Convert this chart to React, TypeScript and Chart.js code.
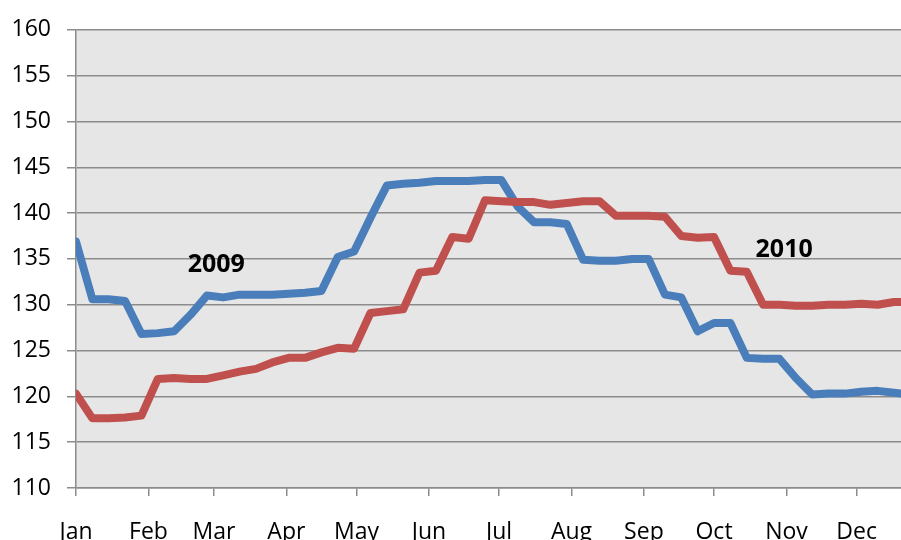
import React, { useEffect, useRef } from "react";
import { Chart, registerables } from "chart.js";

Chart.register(...registerables);

// Weekly observations (day of year = 7 * week index)
const weeks: number[] = Array.from({ length: 52 }, (_, i) => i * 7);

const series2009: number[] = [
  136.9, 130.6, 130.6, 130.4, 126.8, 126.9, 127.1, 128.9, 131.0, 130.8,
  131.1, 131.1, 131.1, 131.2, 131.3, 131.5, 135.2, 135.8, 139.5, 143.0,
  143.2, 143.3, 143.5, 143.5, 143.5, 143.6, 143.6, 140.7, 139.0, 139.0,
  138.8, 134.9, 134.8, 134.8, 135.0, 135.0, 131.1, 130.8, 127.1, 128.0,
  128.0, 124.2, 124.1, 124.1, 122.0, 120.2, 120.3, 120.3, 120.5, 120.6,
  120.4, 120.2,
];

const series2010: number[] = [
  120.3, 117.6, 117.6, 117.7, 117.9, 121.9, 122.0, 121.9, 121.9, 122.3,
  122.7, 123.0, 123.7, 124.2, 124.2, 124.8, 125.3, 125.2, 129.1, 129.3,
  129.5, 133.5, 133.7, 137.4, 137.2, 141.4, 141.3, 141.2, 141.2, 140.9,
  141.1, 141.3, 141.3, 139.7, 139.7, 139.7, 139.6, 137.5, 137.3, 137.4,
  133.7, 133.6, 130.0, 130.0, 129.9, 129.9, 130.0, 130.0, 130.1, 130.0,
  130.3, 130.3,
];

const monthLabels: string[] = ["Jan", "Feb", "Mar", "Apr", "May", "Jun", "Jul", "Aug", "Sep", "Oct", "Nov", "Dec"];
const monthStartDays: number[] = [0, 31, 59, 90, 120, 151, 181, 212, 243, 273, 304, 334];
const yTicks: number[] = [110, 115, 120, 125, 130, 135, 140, 145, 150, 155, 160];

const seriesLabels = [
  { text: "2009", day: 60, value: 134.4 },
  { text: "2010", day: 303, value: 136.0 },
];

const FONT = "'Open Sans', 'DejaVu Sans', sans-serif";

export default function App() {
  const ref = useRef<HTMLCanvasElement | null>(null);

  useEffect(() => {
    document.body.style.margin = "0";
    const canvas = ref.current;
    if (!canvas) return;

    const bgPlugin = {
      id: "plotBg",
      beforeDraw(chart: any) {
        const { ctx, chartArea } = chart;
        ctx.save();
        ctx.fillStyle = "#e6e6e6";
        ctx.fillRect(chartArea.left, chartArea.top, chartArea.right - chartArea.left, chartArea.bottom - chartArea.top);
        ctx.restore();
      },
    };

    const labelPlugin = {
      id: "seriesLabels",
      afterDatasetsDraw(chart: any) {
        const { ctx } = chart;
        const xs = chart.scales.x;
        const ys = chart.scales.y;
        ctx.save();
        ctx.fillStyle = "#000";
        ctx.font = `bold 25px ${FONT}`;
        ctx.textAlign = "center";
        ctx.textBaseline = "middle";
        seriesLabels.forEach((l) => {
          ctx.fillText(l.text, xs.getPixelForValue(l.day), ys.getPixelForValue(l.value));
        });
        ctx.restore();
      },
    };

    const chart = new Chart(canvas, {
      type: "line",
      data: {
        datasets: [
          {
            label: "2009",
            data: weeks.map((d, i) => ({ x: d, y: series2009[i] })),
            borderColor: "#4a7ebb",
            borderWidth: 8,
            pointRadius: 0,
            tension: 0,
            borderJoinStyle: "round",
            borderCapStyle: "round",
            order: 1,
          },
          {
            label: "2010",
            data: weeks.map((d, i) => ({ x: d, y: series2010[i] })),
            borderColor: "#c0504d",
            borderWidth: 8,
            pointRadius: 0,
            tension: 0,
            borderJoinStyle: "round",
            borderCapStyle: "round",
            order: 0,
          },
        ],
      },
      options: {
        animation: false,
        responsive: false,
        maintainAspectRatio: false,
        layout: { padding: { top: 27, left: 0, right: 0, bottom: 0 } },
        plugins: {
          legend: { display: false },
          tooltip: { enabled: false },
        },
        scales: {
          x: {
            type: "linear",
            min: 0,
            max: 353,
            afterBuildTicks: (scale: any) => {
              scale.ticks = monthStartDays.map((v) => ({ value: v }));
            },
            afterFit: (scale: any) => {
              scale.height = 52;
            },
            ticks: {
              autoSkip: false,
              maxRotation: 0,
              padding: 23,
              color: "#000",
              font: { family: FONT, size: 23 },
              callback: (v: any) => {
                const idx = monthStartDays.indexOf(Number(v));
                return idx >= 0 ? monthLabels[idx] : "";
              },
            },
            grid: {
              drawOnChartArea: false,
              drawTicks: true,
              tickLength: 8,
              color: "#8c8c8c",
              lineWidth: 1.5,
            },
            border: { display: true, color: "#8c8c8c", width: 1.5 },
          },
          y: {
            type: "linear",
            min: 110,
            max: 160,
            afterBuildTicks: (scale: any) => {
              scale.ticks = yTicks.map((v) => ({ value: v }));
            },
            afterFit: (scale: any) => {
              scale.width = 76;
            },
            ticks: {
              padding: 16,
              color: "#000",
              font: { family: FONT, size: 23 },
            },
            grid: {
              drawTicks: true,
              tickLength: 9,
              color: "#8c8c8c",
              lineWidth: 1.5,
            },
            border: { display: true, color: "#8c8c8c", width: 1.5 },
          },
        },
      },
      plugins: [bgPlugin, labelPlugin],
    });

    return () => chart.destroy();
  }, []);

  return (
    <div style={{ position: "relative", width: 901, height: 540 }}>
      <canvas ref={ref} width={901} height={540} style={{ display: "block", width: 901, height: 540 }} />
    </div>
  );
}
